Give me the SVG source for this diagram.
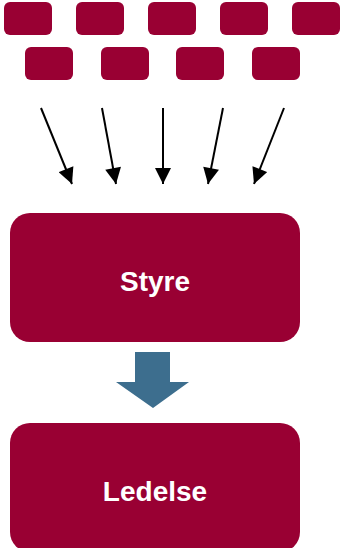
<svg xmlns="http://www.w3.org/2000/svg" width="341" height="548" viewBox="0 0 341 548">
<defs>
<style>
.small{fill:#990033}
.big{fill:#990033}
.lbl{font-family:"Liberation Sans",Arial,sans-serif;font-weight:bold;font-size:28px;fill:#ffffff;text-anchor:middle}
.conn{stroke:#000000;stroke-width:2;fill:none}
</style>
<marker id="ah" viewBox="0 0 10 10" refX="10" refY="5" markerWidth="8.5" markerHeight="8" markerUnits="strokeWidth" orient="auto">
<path d="M0,0 L10,5 L0,10 Z" fill="#000000"/>
</marker>
</defs>
<rect width="341" height="548" fill="#ffffff"/>
<g id="n1"><rect class="small" x="4" y="2" width="48" height="33" rx="6"/></g>
<g id="n2"><rect class="small" x="76" y="2" width="48" height="33" rx="6"/></g>
<g id="n3"><rect class="small" x="148" y="2" width="48" height="33" rx="6"/></g>
<g id="n4"><rect class="small" x="220" y="2" width="48" height="33" rx="6"/></g>
<g id="n5"><rect class="small" x="292" y="2" width="48" height="33" rx="6"/></g>
<g id="n6"><rect class="small" x="25" y="47" width="48" height="33" rx="6"/></g>
<g id="n7"><rect class="small" x="101" y="47" width="48" height="33" rx="6"/></g>
<g id="n8"><rect class="small" x="176" y="47" width="48" height="33" rx="6"/></g>
<g id="n9"><rect class="small" x="252" y="47" width="48" height="33" rx="6"/></g>
<g id="connectors">
<line class="conn" x1="41" y1="108" x2="72" y2="184" marker-end="url(#ah)"/>
<line class="conn" x1="102" y1="108" x2="116" y2="184" marker-end="url(#ah)"/>
<line class="conn" x1="163" y1="108" x2="163" y2="184" marker-end="url(#ah)"/>
<line class="conn" x1="223" y1="108" x2="208" y2="184" marker-end="url(#ah)"/>
<line class="conn" x1="284" y1="108" x2="254" y2="184" marker-end="url(#ah)"/>
<path d="M135,352 L170,352 L170,382 L189,382 L153,408 L116,382 L135,382 Z" fill="#3d6e8e"/>
</g>
<g id="styre">
<rect class="big" x="10" y="213" width="290" height="129" rx="20"/>
<text class="lbl" x="155" y="291">Styre</text>
</g>
<g id="ledelse">
<rect class="big" x="10" y="423" width="290" height="129" rx="20"/>
<text class="lbl" x="155" y="501">Ledelse</text>
</g>
</svg>
